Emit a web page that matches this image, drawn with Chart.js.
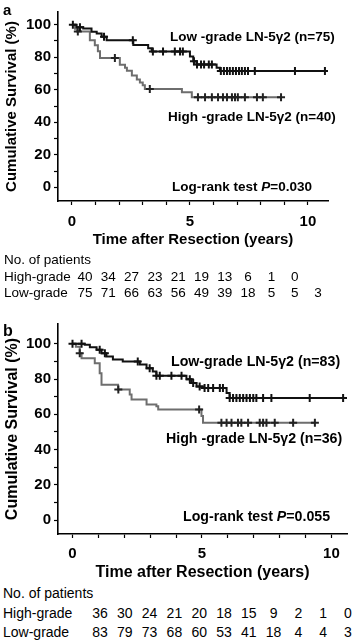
<!DOCTYPE html>
<html>
<head>
<meta charset="utf-8">
<script src="https://cdn.jsdelivr.net/npm/chart.js@4.4.1/dist/chart.umd.min.js"></script>
<style>
  html, body { margin: 0; padding: 0; background: #fff; }
  body { width: 354px; height: 644px; position: relative; overflow: hidden;
         font-family: "Liberation Sans", Arial, sans-serif; color: #000; }
  .cv { position: absolute; left: 0; }
  .t { position: absolute; white-space: nowrap; line-height: 1; }
  .b { font-weight: bold; }
  .num { position: absolute; white-space: nowrap; line-height: 1; transform: translateX(-50%); }
</style>
</head>
<body>
<div class="cv" style="top:0px;width:354px;height:249px;"><canvas id="ca"></canvas></div>
<div class="cv" style="top:312px;width:354px;height:270px;"><canvas id="cb"></canvas></div>
<div id="overlay"></div>
<script>
// ---------------- DATA ----------------
// Panel a: Kaplan-Meier step points (time in years, survival %)
const A_LOW_TIMES  = [0, 0.2, 0.48, 0.83, 1.05, 1.26, 1.47, 2.6, 3.23, 3.38, 5.0, 5.14, 5.28, 6.13, 6.27];
const A_LOW_SURV   = [100, 98.4, 97.6, 95.6, 94.6, 92.6, 90.5, 87.5, 85.5, 83.5, 80.5, 77.5, 75.5, 73.5, 71.5];
const A_LOW_END    = 10.72;
const A_LOW_CENSOR = [0.04, 0.34, 1.36, 2.58, 3.43, 3.86, 4.36, 4.58, 4.7, 5.17, 5.3, 5.47, 5.6, 5.8, 5.93,
                      6.31, 6.44, 6.57, 6.69, 6.82, 6.95, 7.08, 7.2, 7.33, 7.46, 7.75, 9.45, 10.72];

const A_HIGH_TIMES  = [0, 0.13, 0.21, 0.76, 0.97, 1.1, 1.19, 2.03, 2.25, 2.33, 2.54, 2.75, 2.88, 3.0, 3.09, 4.66, 5.08];
const A_HIGH_SURV   = [100, 97.5, 95.8, 90.4, 87.3, 83.7, 79.5, 75.3, 73.5, 71.7, 68.7, 66.3, 64.5, 62.7, 60.5, 58.4, 55.4];
const A_HIGH_END    = 8.86;
const A_HIGH_CENSOR = [0.25, 1.82, 3.3, 5.34, 5.64, 5.93, 6.19, 6.4, 6.57, 6.78, 6.91, 7.03, 7.33, 7.84, 8.09, 8.86];

// Panel b
const B_LOW_TIMES  = [0, 0.47, 0.67, 0.93, 1.12, 1.31, 1.56, 1.94, 2.6, 2.86, 3.1, 3.24, 4.4, 4.59, 4.79, 5.03, 5.95, 6.07];
const B_LOW_SURV   = [100, 99.4, 98, 96.6, 94.6, 92.7, 91, 89.9, 88.2, 86.1, 84.3, 81.8, 79.8, 77.7, 75.8, 74.9, 72.1, 69.3];
const B_LOW_END    = 10.45;
const B_LOW_CENSOR = [0, 0.35, 1.05, 1.25, 2.52, 2.98, 3.24, 3.37, 3.82, 4.21, 4.53, 4.66, 4.91, 5.1, 5.24, 5.43,
                      5.69, 5.81, 6.07, 6.2, 6.33, 6.46, 6.59, 6.72, 6.85, 6.98, 7.1, 7.36, 7.68, 9.16, 10.45];

const B_HIGH_TIMES  = [0, 0.13, 0.28, 0.35, 0.86, 1.05, 1.12, 1.76, 2.21, 2.28, 2.86, 3.24, 3.31, 4.98, 5.04];
const B_HIGH_SURV   = [100, 98.3, 94.6, 91.8, 89, 83.3, 76.8, 74, 71.2, 68.4, 65.6, 64.6, 62.7, 59, 55.2];
const B_HIGH_END    = 9.36;
const B_HIGH_CENSOR = [0.28, 1.77, 4.89, 5.75, 5.95, 6.14, 6.39, 6.52, 6.78, 7.23, 7.36, 7.49, 7.81, 8.52, 9.36];

// Axis ticks
const X_TICKS = [0, 1, 2, 3, 4, 5, 6, 7, 8, 9, 10];
const X_LABELED = [0, 5, 10];
const Y_TICKS = [0, 10, 20, 30, 40, 50, 60, 70, 80, 90, 100];
const Y_LABELED = [0, 20, 40, 60, 80, 100];

// Numbers at risk
const A_RISK_HIGH = [40, 34, 27, 23, 21, 19, 13, 6, 1, 0];
const A_RISK_LOW  = [75, 71, 66, 63, 56, 49, 39, 18, 5, 5, 3];
const B_RISK_HIGH = [36, 30, 24, 21, 20, 18, 15, 9, 2, 1, 0];
const B_RISK_LOW  = [83, 79, 73, 68, 60, 53, 41, 18, 4, 4, 3];

// Texts
const A_LOW_LABEL  = 'Low -grade LN-5γ2 (n=75)';
const A_HIGH_LABEL = 'High -grade LN-5γ2 (n=40)';
const A_PVAL = '0.030';
const B_LOW_LABEL  = 'Low-grade LN-5γ2 (n=83)';
const B_HIGH_LABEL = 'High -grade LN-5γ2 (n=36)';
const B_PVAL = '0.055';

// ---------------- HELPERS ----------------
function stepPoints(times, surv, end) {
  const pts = times.map((t, i) => ({x: t, y: surv[i]}));
  pts.push({x: end, y: surv[surv.length - 1]});
  return pts;
}
function survAt(times, surv, t) {
  let s = surv[0];
  for (let i = 0; i < times.length; i++) { if (times[i] <= t + 1e-9) s = surv[i]; }
  return s;
}
function censorPoints(times, surv, cens) {
  return cens.map(t => ({x: t, y: survAt(times, surv, t)}));
}

const FONT = '"Liberation Sans", Arial, sans-serif';

function makeChart(id, cfg) {
  const low = stepPoints(cfg.lowT, cfg.lowS, cfg.lowEnd);
  const high = stepPoints(cfg.highT, cfg.highS, cfg.highEnd);
  const lowC = censorPoints(cfg.lowT, cfg.lowS, cfg.lowC);
  const highC = censorPoints(cfg.highT, cfg.highS, cfg.highC);
  return new Chart(document.getElementById(id), {
    type: 'scatter',
    data: {
      datasets: [
        { type: 'line', data: high, stepped: 'before', borderColor: '#6e6e6e', borderWidth: 2,
          pointRadius: 0, fill: false, order: 3 },
        { type: 'line', data: low, stepped: 'before', borderColor: '#111', borderWidth: 2,
          pointRadius: 0, fill: false, order: 2 },
        { data: highC, pointStyle: 'cross', pointRadius: cfg.cr, borderColor: '#222', borderWidth: 2,
          backgroundColor: '#222', order: 1 },
        { data: lowC, pointStyle: 'cross', pointRadius: cfg.cr, borderColor: '#111', borderWidth: 2,
          backgroundColor: '#111', order: 0 }
      ]
    },
    options: {
      responsive: true, maintainAspectRatio: false, animation: false,
      events: [],
      layout: { padding: { top: cfg.padTop, right: cfg.padRight, left: 0, bottom: 0 } },
      plugins: { legend: { display: false }, tooltip: { enabled: false } },
      scales: {
        x: {
          type: 'linear', min: cfg.xmin, max: cfg.xmax,
          afterBuildTicks: s => { s.ticks = X_TICKS.map(v => ({value: v})); },
          afterFit: s => { s.height = cfg.xH; },
          ticks: { autoSkip: false, maxRotation: 0, padding: cfg.xPad, color: '#000',
                   font: { family: FONT, size: cfg.tickSize, weight: 'bold' },
                   callback: v => X_LABELED.includes(v) ? String(v) : '' },
          grid: { drawOnChartArea: false, drawTicks: true, tickLength: 4, tickColor: '#000', tickWidth: 1.2 },
          border: { display: true, color: '#000', width: 1.6 },
          title: { display: true, text: 'Time after Resection (years)', color: '#000',
                   padding: { top: 0, bottom: 0 },
                   font: { family: FONT, size: cfg.titleSize, weight: 'bold' } }
        },
        y: {
          type: 'linear', min: cfg.ymin, max: cfg.ymax,
          afterBuildTicks: s => { s.ticks = Y_TICKS.map(v => ({value: v})); },
          afterFit: s => { s.width = 58; },
          ticks: { autoSkip: false, padding: 3, color: '#000',
                   font: { family: FONT, size: cfg.tickSize, weight: 'bold' },
                   callback: v => Y_LABELED.includes(v) ? String(v) : '' },
          grid: { drawOnChartArea: false, drawTicks: true, tickLength: 4, tickColor: '#000', tickWidth: 1.2 },
          border: { display: true, color: '#000', width: 1.6 },
          title: { display: true, text: 'Cumulative Survival (%)', color: '#000',
                   padding: { top: cfg.yTitlePad, bottom: 0 },
                   font: { family: FONT, size: cfg.titleSize, weight: 'bold' } }
        }
      }
    }
  });
}

makeChart('ca', {
  lowT: A_LOW_TIMES, lowS: A_LOW_SURV, lowEnd: A_LOW_END, lowC: A_LOW_CENSOR,
  highT: A_HIGH_TIMES, highS: A_HIGH_SURV, highEnd: A_HIGH_END, highC: A_HIGH_CENSOR,
  xmin: -0.59, xmax: 10.85, ymin: -8.4, ymax: 107.8,
  padTop: 8, padRight: 26, xH: 48, xPad: 8, tickSize: 15, titleSize: 15, yTitlePad: 3, cr: 4
});
makeChart('cb', {
  lowT: B_LOW_TIMES, lowS: B_LOW_SURV, lowEnd: B_LOW_END, lowC: B_LOW_CENSOR,
  highT: B_HIGH_TIMES, highS: B_HIGH_SURV, highEnd: B_HIGH_END, highC: B_HIGH_CENSOR,
  xmin: -0.56, xmax: 10.6, ymin: -7.9, ymax: 111.2,
  padTop: 10, padRight: 7, xH: 48, xPad: 7, tickSize: 15, titleSize: 16, yTitlePad: 3, cr: 4
});

// ---------------- TEXT OVERLAYS ----------------
const ov = document.getElementById('overlay');
function addText(html, left, cy, size, bold) {
  const d = document.createElement('div');
  d.className = 't' + (bold ? ' b' : '');
  d.style.left = left + 'px';
  d.style.top = (cy - size / 2) + 'px';
  d.style.fontSize = size + 'px';
  d.innerHTML = html;
  ov.appendChild(d);
}
function addNum(txt, cx, cy, size) {
  const d = document.createElement('div');
  d.className = 'num';
  d.style.left = cx + 'px';
  d.style.top = (cy - size / 2) + 'px';
  d.style.fontSize = size + 'px';
  d.textContent = txt;
  ov.appendChild(d);
}

addText('a', 3, 9, 15, true);
addText(A_LOW_LABEL, 170, 37, 13.5, true);
addText(A_HIGH_LABEL, 168, 117, 13.5, true);
addText('Log-rank test <i>P</i>=' + A_PVAL, 172, 187, 13.5, true);

addText('b', 3, 331, 16, true);
addText(B_LOW_LABEL, 171, 361, 14.2, true);
addText(B_HIGH_LABEL, 166, 438, 14.2, true);
addText('Log-rank test <i>P</i>=' + B_PVAL, 183, 516, 14.2, true);

addText('No. of patients', 4, 260, 13.5, false);
addText('High-grade', 4, 277, 13.5, false);
addText('Low-grade', 4, 293, 13.5, false);
A_RISK_HIGH.forEach((v, i) => addNum(String(v), 85 + 23.3 * i, 277, 13.5));
A_RISK_LOW.forEach((v, i) => addNum(String(v), 85 + 23.3 * i, 293, 13.5));

addText('No. of patients', 3, 593, 14, false);
addText('High-grade', 3, 613, 14, false);
addText('Low-grade', 3, 632, 14, false);
B_RISK_HIGH.forEach((v, i) => addNum(String(v), 100 + 24.8 * i, 613, 14));
B_RISK_LOW.forEach((v, i) => addNum(String(v), 100 + 24.8 * i, 632, 14));
</script>
</body>
</html>
